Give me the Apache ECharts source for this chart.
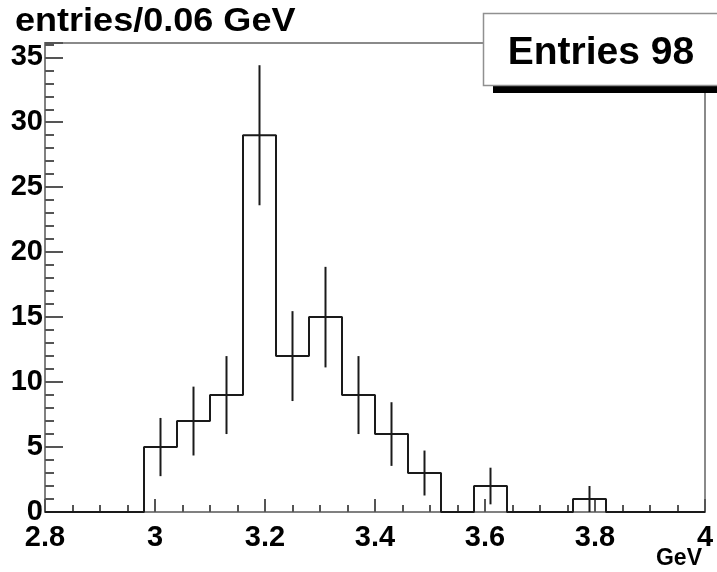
<!DOCTYPE html>
<html>
<head>
<meta charset="utf-8">
<title>entries/0.06 GeV</title>
<script src="https://cdn.jsdelivr.net/npm/echarts@6/dist/echarts.min.js"></script>
<style>
  html, body { margin: 0; padding: 0; background: #fff; }
  #chart { width: 717px; height: 572px; }
</style>
</head>
<body>
<div id="chart"></div>
<script>
// Histogram of invariant mass, 0.06 GeV bins from 2.8 to 4.0 GeV
const binEdges = [2.80, 2.86, 2.92, 2.98, 3.04, 3.10, 3.16, 3.22, 3.28, 3.34, 3.40,
                  3.46, 3.52, 3.58, 3.64, 3.70, 3.76, 3.82, 3.88, 3.94, 4.00];
const counts   = [0, 0, 0, 5, 7, 9, 29, 12, 15, 9, 6, 3, 0, 2, 0, 0, 1, 0, 0, 0];
// statistical errors per bin
const errors   = [0, 0, 0, 2.24, 2.65, 3.00, 5.39, 3.46, 3.87, 3.00, 2.45, 1.73,
                  0, 1.41, 0, 0, 1.00, 0, 0, 0];
const xTicks = { min: 2.8, max: 4.0, step: 0.2 };
const yTicks = { min: 0, max: 36.1, step: 5 };
const titleText = 'entries/0.06 GeV';
const statsText = 'Entries 98';
const xUnit = 'GeV';

const FONT = '"Liberation Sans", Arial, Helvetica, sans-serif';

// outline points for a stepped histogram
const outline = counts.map((c, i) => [binEdges[i], c]);
outline.push([binEdges[binEdges.length - 1], counts[counts.length - 1]]);

// error bars at bin centres
const errorData = [];
counts.forEach((c, i) => {
  if (c > 0) {
    const mid = (binEdges[i] + binEdges[i + 1]) / 2;
    errorData.push([mid, c - errors[i], c + errors[i]]);
  }
});

const chart = echarts.init(document.getElementById('chart'), null, { renderer: 'canvas' });

const fmtX = v => String(parseFloat(v.toFixed(2)));

chart.setOption({
  animation: false,
  backgroundColor: '#ffffff',
  grid: {
    left: 45, right: 12, top: 43, bottom: 60,
    show: true, borderColor: '#8a8a8a', borderWidth: 2, backgroundColor: 'transparent'
  },
  xAxis: {
    type: 'value',
    min: xTicks.min, max: xTicks.max, interval: xTicks.step,
    axisLine: { show: true, onZero: false, lineStyle: { color: '#808080', width: 2 } },
    axisTick: { show: true, inside: true, length: 13, lineStyle: { color: '#555', width: 2 } },
    minorTick: { show: true, splitNumber: 4, length: 7, lineStyle: { color: '#555', width: 2 } },
    splitLine: { show: false },
    axisLabel: {
      margin: 11, color: '#000', fontFamily: FONT, fontWeight: 'bold', fontSize: 29,
      formatter: fmtX
    }
  },
  yAxis: {
    type: 'value',
    min: yTicks.min, max: yTicks.max, interval: yTicks.step,
    axisLine: { show: true, lineStyle: { color: '#808080', width: 2 } },
    axisTick: { show: true, inside: true, length: 18, lineStyle: { color: '#555', width: 2 } },
    minorTick: { show: true, splitNumber: 5, length: 9, lineStyle: { color: '#555', width: 2 } },
    splitLine: { show: false },
    axisLabel: {
      margin: 2, color: '#000', fontFamily: FONT, fontWeight: 'bold', fontSize: 29,
      showMaxLabel: false,
      formatter: v => (Math.abs(v % 5) < 1e-9 ? String(v) : '')
    }
  },
  series: [
    {
      name: 'histogram',
      type: 'line',
      step: 'end',
      data: outline,
      symbol: 'none',
      lineStyle: { color: '#1a1a1a', width: 2 },
      z: 5
    },
    {
      name: 'errors',
      type: 'custom',
      data: errorData,
      renderItem: (params, api) => {
        const top = api.coord([api.value(0), api.value(2)]);
        const bot = api.coord([api.value(0), api.value(1)]);
        return {
          type: 'line',
          shape: { x1: top[0], y1: top[1], x2: bot[0], y2: bot[1] },
          style: { stroke: '#1a1a1a', lineWidth: 2 }
        };
      },
      z: 6
    }
  ],
  graphic: [
    {
      type: 'text', left: 15, top: 5, z: 20,
      style: {
        text: titleText, fill: '#000', fontFamily: FONT, fontWeight: 'bold', fontSize: 34
      },
      scaleX: 1.06
    },
    {
      type: 'rect', z: 20,
      shape: { x: 493, y: 85, width: 230, height: 8 },
      style: { fill: '#000' }
    },
    {
      type: 'rect', z: 21,
      shape: { x: 483.5, y: 13.5, width: 240, height: 72 },
      style: { fill: '#fff', stroke: '#909090', lineWidth: 1.5 }
    },
    {
      type: 'text', z: 22, x: 601, y: 53,
      style: {
        text: statsText, fill: '#000', fontFamily: FONT, fontWeight: 'bold', fontSize: 39,
        align: 'center', verticalAlign: 'middle'
      }
    },
    {
      type: 'text', z: 22, x: 702, y: 559,
      style: {
        text: xUnit, fill: '#000', fontFamily: FONT, fontWeight: 'bold', fontSize: 23,
        align: 'right', verticalAlign: 'middle'
      }
    }
  ]
});
</script>
</body>
</html>
